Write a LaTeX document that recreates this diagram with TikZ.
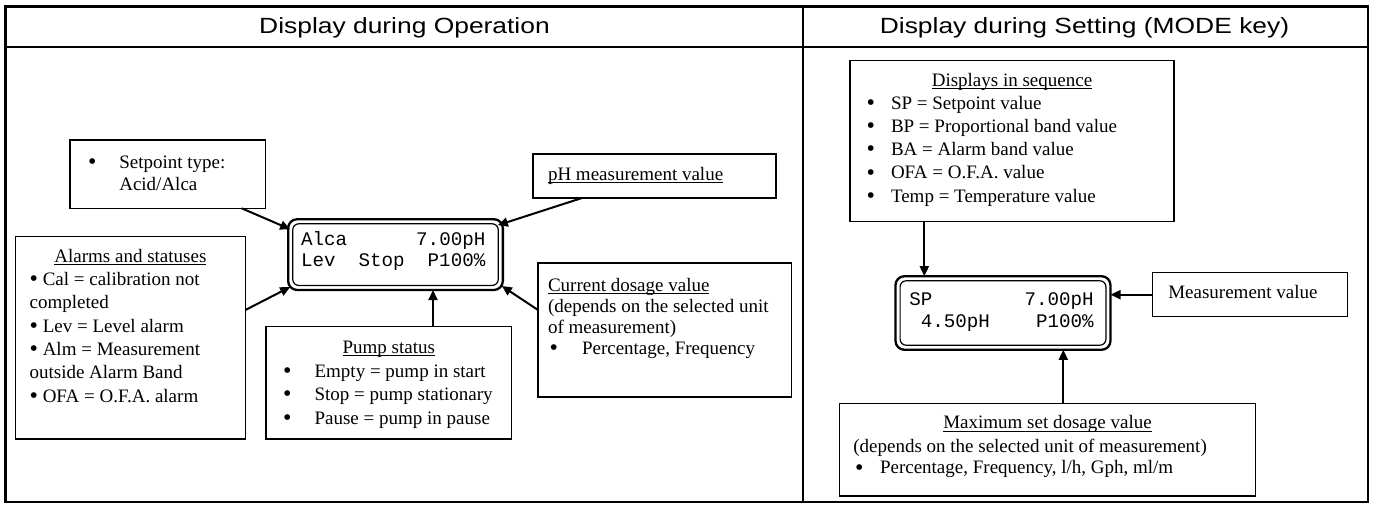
\documentclass[tikz,border=0pt]{standalone}
\usepackage{fontspec}
\setmainfont{Liberation Serif}
\newfontfamily\titlefont{Liberation Sans}[FakeStretch=1.2]
\newfontfamily\lcdfont{Liberation Mono}
\usetikzlibrary{arrows.meta,calc}
\newsavebox\ulbox
\newcommand{\ulx}[1]{\sbox\ulbox{#1}\rlap{\rule[-2.6pt]{\wd\ulbox}{0.9pt}}\usebox\ulbox}
\newcommand{\bigbul}{\raisebox{-1.3pt}{\fontsize{24}{24}\selectfont\textbullet}}
\newcommand{\bul}[1]{\makebox[#1][l]{\bigbul}}
\begin{document}
\begin{tikzpicture}[x=1pt,y=-1pt,
  every node/.style={inner sep=0pt, outer sep=0pt},
  box/.style={draw, line width=1.2pt},
  txt/.style={anchor=base west, font=\fontsize{19}{22}\selectfont},
  ctxt/.style={anchor=base, font=\fontsize{19}{22}\selectfont},
  ttl/.style={anchor=base, font=\titlefont\fontsize{22}{24}\selectfont},
  lcdtxt/.style={anchor=base west, font=\lcdfont\fontsize{19.2}{21}\selectfont},
  lcd/.style={draw, line width=2.3pt, rounded corners=9pt},
  arr/.style={line width=2pt, -{Triangle[length=10pt,width=9pt]}}
]
\useasboundingbox (0,0) rectangle (1375,511);
\fill[white] (0,0) rectangle (1375,511);

% frame
\draw[line width=2.2pt] (5.5,6.5) rectangle (1368,502);
\draw[line width=2.2pt] (5.5,46.7) -- (1368,46.7);
\draw[line width=2.2pt] (802.7,6.5) -- (802.7,502);

% titles
\node[ttl] (ttl1) at (404.5,34) {Display during Operation};
\node[ttl] (ttl2) at (1084.5,34) {Display during Setting (MODE key)};

% ---------- left panel ----------
\node[lcd, minimum width=214.7pt, minimum height=70.8pt] (lcd1) at (395.5,254.6) {};
\draw[line width=1.2pt, rounded corners=6pt] ($(lcd1.south west)+(4.6,-4.6)$) rectangle ($(lcd1.north east)+(-4.6,4.6)$);
\node[lcdtxt] (l1a) at (301,245.7) {Alca\ \ \ \ \ \ 7.00pH};
\node[lcdtxt] (l1b) at (301,266.7) {Lev\ \ Stop\ \ P100\%};

\node[box, minimum width=195.7pt, minimum height=68.3pt] (sp) at (167.85,174.15) {};
\node[txt] (sp1) at (88,168.5) {\bul{31.3pt}Setpoint type:};
\node[txt] (sp2) at (119.3,190) {Acid/Alca};

\node[box, minimum width=243pt, minimum height=44pt] (ph) at (654.5,176) {};
\node[txt] (ph1) at (548,180.5) {\ulx{pH measurement value}};

\node[box, minimum width=230pt, minimum height=202.3pt] (alm) at (130.4,337.85) {};
\node[ctxt] (al0) at (130.4,262.2) {\ulx{Alarms and statuses}};
\node[txt] (al1) at (29.6,285.5) {\bigbul\ Cal = calibration not};
\node[txt] (al2) at (29.6,308.8) {completed};
\node[txt] (al3) at (29.6,332.1) {\bigbul\ Lev = Level alarm};
\node[txt] (al4) at (29.6,355.4) {\bigbul\ Alm = Measurement};
\node[txt] (al5) at (29.6,378.7) {outside Alarm Band};
\node[txt] (al6) at (29.6,402) {\bigbul\ OFA = O.F.A. alarm};

\node[box, minimum width=245.5pt, minimum height=112.3pt] (pump) at (388.75,382.85) {};
\node[ctxt] (pu0) at (388.75,353) {\ulx{Pump status}};
\node[txt] (pu1) at (283,377) {\bul{31.6pt}Empty = pump in start};
\node[txt] (pu2) at (283,400.5) {\bul{31.6pt}Stop = pump stationary};
\node[txt] (pu3) at (283,424.5) {\bul{31.6pt}Pause = pump in pause};

\node[box, minimum width=253.7pt, minimum height=134pt] (cur) at (664.85,330) {};
\node[txt] (cu0) at (548,291.5) {\ulx{Current dosage value}};
\node[txt] (cu1) at (548,312.5) {(depends on the selected unit};
\node[txt] (cu2) at (548,333) {of measurement)};
\node[txt] (cu3) at (549.5,354.5) {\bul{32.5pt}Percentage, Frequency};

\draw[arr] ($(sp.south west)+(171.7,0)$) -- ($(lcd1.north west)+(2,10)$);
\draw[arr] ($(ph.south west)+(49,0)$) -- ($(lcd1.north east)+(-5,6)$);
\draw[arr] ($(alm.north east)+(0,73.3)$) -- ($(lcd1.south west)+(2,-3)$);
\draw[arr] ($(pump.north west)+(167,0)$) coordinate (pup) -- (pup |- lcd1.south);
\draw[arr] ($(cur.north west)+(0,47)$) -- ($(lcd1.south east)+(-1,-4)$);

% ---------- right panel ----------
\node[lcd, minimum width=215pt, minimum height=73.6pt] (lcd2) at (1003,313) {};
\draw[line width=1.2pt, rounded corners=6pt] ($(lcd2.south west)+(4.6,-4.6)$) rectangle ($(lcd2.north east)+(-4.6,4.6)$);
\node[lcdtxt] (l2a) at (909.3,305.5) {SP\ \ \ \ \ \ \ \ 7.00pH};
\node[lcdtxt] (l2b) at (909.3,327) {\ 4.50pH\ \ \ \ P100\%};

\node[box, minimum width=324pt, minimum height=161pt] (seq) at (1012,141.2) {};
\node[ctxt] (sq0) at (1012,86) {\ulx{Displays in sequence}};
\node[txt] (sq1) at (866.5,109.2) {\bul{24.5pt}SP = Setpoint value};
\node[txt] (sq2) at (866.5,132.4) {\bul{24.5pt}BP = Proportional band value};
\node[txt] (sq3) at (866.5,155.6) {\bul{24.5pt}BA = Alarm band value};
\node[txt] (sq4) at (866.5,178.8) {\bul{24.5pt}OFA = O.F.A. value};
\node[txt] (sq5) at (866.5,202) {\bul{24.5pt}Temp = Temperature value};

\node[box, minimum width=194.6pt, minimum height=44pt] (meas) at (1250,294.7) {};
\node[txt] (ms1) at (1168.3,298.8) {Measurement value};

\node[box, minimum width=416.4pt, minimum height=92.7pt] (max) at (1047.5,449.65) {};
\node[ctxt] (mx0) at (1047.5,428.8) {\ulx{Maximum set dosage value}};
\node[txt] (mx1) at (853.3,452.2) {(depends on the selected unit of measurement)};
\node[txt] (mx2) at (855.2,473.8) {\bul{24.8pt}Percentage, Frequency, l/h, Gph, ml/m};

\draw[arr] ($(seq.south west)+(74.3,0)$) coordinate (sqp) -- (sqp |- lcd2.north);
\draw[arr] ($(max.north west)+(224,0)$) coordinate (mxp) -- (mxp |- lcd2.south);
\draw[arr] (meas.west) -- (meas.west -| lcd2.east);
\end{tikzpicture}
\end{document}
